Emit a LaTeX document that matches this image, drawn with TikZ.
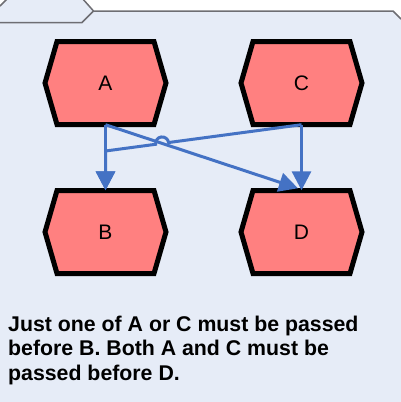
\documentclass[tikz,border=0pt]{standalone}
\usepackage{fontspec}
\setmainfont{Liberation Sans}
\usetikzlibrary{arrows.meta,calc}
\definecolor{panel}{RGB}{230,236,247}
\definecolor{hexfill}{RGB}{255,128,128}
\definecolor{flowblue}{RGB}{68,114,196}
\definecolor{tabline}{RGB}{110,110,115}
\newcommand{\hexnode}[4]{
\draw[line width=5,fill=hexfill] (#2-48.5,#3-41.5)--(#2+48.5,#3-41.5)--(#2+60.5,#3)--(#2+48.5,#3+41.5)--(#2-48.5,#3+41.5)--(#2-60.5,#3)-- cycle;
\path (#2,#3) node[minimum width=121,minimum height=83,inner sep=0,font=\fontsize{21}{24}\selectfont] (#1) {#4};
}

\begin{document}
\begin{tikzpicture}[x=1pt,y=-1pt,flow/.style={draw=flowblue,line width=3,-{Triangle[length=19pt,width=19pt]}}]
\useasboundingbox (0,0) rectangle (401,402);
\fill[panel] (0,402)--(0,6)--(8,-2)--(82,-2)--(93.5,11)--(393,11)--(401,19)--(401,402)-- cycle;
\draw[tabline,line width=1.5] (0,6)--(8,-2)--(82,-2)--(93.5,11)--(393,11)--(401,19);
\draw[tabline,line width=1.5] (0,22.5)--(82,22.5)--(93.5,11);
\hexnode{A}{105.5}{83}{A}
\hexnode{C}{301.5}{83}{C}
\hexnode{B}{105.5}{232}{B}
\hexnode{D}{301.5}{232}{D}
\coordinate (bend) at (105.5,151);
\coordinate (dtip) at ($(D.north)+(-3.5,-2)$);
\coordinate (hop) at (intersection of A.south--dtip and C.south--bend);
\draw[flow] (A.south) -- (B.north);
\draw[flow] (C.south) -- (D.north);
\draw[flow] (A.south) -- (dtip);
%\draw[flow] (C.south) -- (bend) -- (B.north);
\draw[flow] (C.south) -- ($(hop)!6.5pt!(C.south)$) arc[start angle=-7.7,end angle=-187.7,radius=6.5] -- (bend) -- (B.north);
\node[anchor=base west,align=left,inner sep=0,font=\bfseries\fontsize{21.3}{24.5}\selectfont] (note) at (8,380) {Just one of A or C must be passed\\before B. Both A and C must be\\passed before D.};
\end{tikzpicture}
\end{document}
